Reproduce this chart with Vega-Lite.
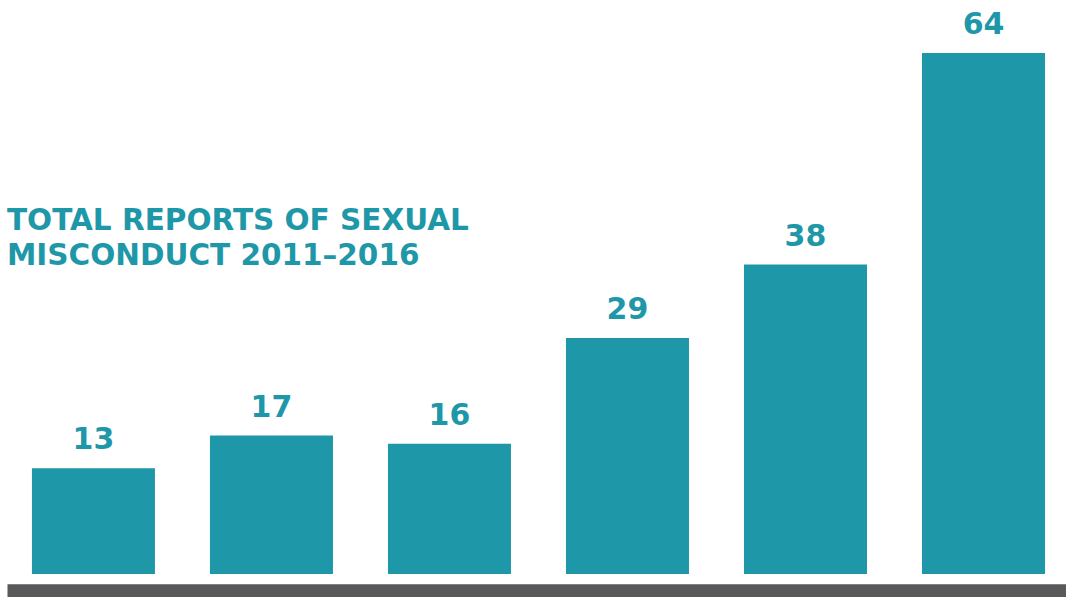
{
  "$schema": "https://vega.github.io/schema/vega-lite/v6.json",
  "width": 1066,
  "height": 574,
  "autosize": {"type": "none"},
  "padding": {"left": 0, "top": 0, "right": 0, "bottom": 23},
  "background": "white",
  "config": {"view": {"stroke": null}},
  "title": {
    "text": ["TOTAL REPORTS OF SEXUAL", "MISCONDUCT 2011–2016"],
    "anchor": "start",
    "frame": "group",
    "orient": "top",
    "baseline": "top",
    "offset": 0,
    "dx": 7,
    "dy": 271,
    "lineHeight": 35,
    "font": "DejaVu Sans",
    "fontSize": 29.5,
    "fontWeight": "bold",
    "color": "#1E97A8"
  },
  "data": {
    "values": [
      {"year": "2011", "reports": 13},
      {"year": "2012", "reports": 17},
      {"year": "2013", "reports": 16},
      {"year": "2014", "reports": 29},
      {"year": "2015", "reports": 38},
      {"year": "2016", "reports": 64}
    ]
  },
  "encoding": {
    "x": {
      "field": "year",
      "type": "nominal",
      "sort": null,
      "scale": {"range": [7, 1066], "paddingInner": 0.309, "paddingOuter": 0.129, "align": 0.543},
      "axis": {
        "title": null,
        "labels": false,
        "ticks": false,
        "domain": true,
        "domainColor": "#58595B",
        "domainWidth": 13.3,
        "domainCap": "butt",
        "offset": 16.5,
        "grid": false
      }
    },
    "y": {
      "field": "reports",
      "type": "quantitative",
      "scale": {"domain": [0, 70.5], "nice": false, "zero": true},
      "axis": null
    }
  },
  "layer": [
    {"mark": {"type": "bar", "color": "#1E97A8"}},
    {
      "mark": {
        "type": "text",
        "baseline": "alphabetic",
        "align": "center",
        "dy": -19,
        "font": "DejaVu Sans",
        "fontSize": 30,
        "fontWeight": "bold",
        "color": "#1E97A8"
      },
      "encoding": {"text": {"field": "reports", "type": "quantitative"}}
    }
  ]
}
